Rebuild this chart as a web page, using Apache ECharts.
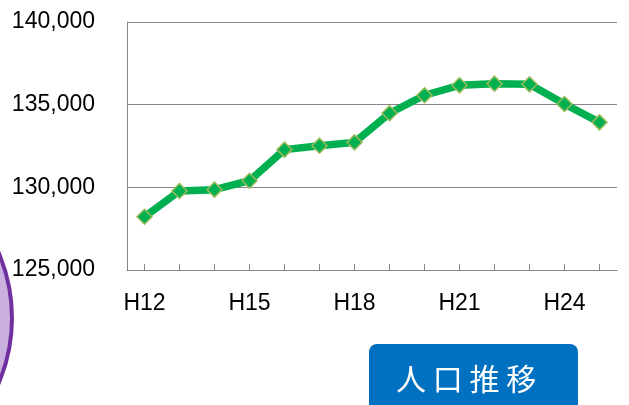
<!DOCTYPE html>
<html>
<head>
<meta charset="utf-8">
<script src="https://cdn.jsdelivr.net/npm/echarts@6/dist/echarts.min.js"></script>
<style>
  html, body { margin: 0; padding: 0; background: #fff; }
  #chart { width: 629px; height: 405px; }
</style>
</head>
<body>
<div id="chart"></div>
<script>
// 年度 (平成)
var years = ['H12', 'H13', 'H14', 'H15', 'H16', 'H17', 'H18', 'H19', 'H20', 'H21', 'H22', 'H23', 'H24', 'H25'];
// 人口
var population = [128220, 129780, 129860, 130400, 132280, 132520, 132720, 134480, 135570, 136170, 136270, 136230, 135040, 133930];
var yTicks = { min: 125000, max: 140000, step: 5000 };
var buttonLabel = '人 口 推 移';

var chart = echarts.init(document.getElementById('chart'));

var option = {
  animation: false,
  grid: { left: 127, right: 12, top: 22, bottom: 135 },
  xAxis: {
    type: 'category',
    data: years,
    boundaryGap: true,
    axisLine: { lineStyle: { color: '#868686', width: 1 } },
    axisTick: { show: true, inside: true, length: 6, alignWithLabel: true, interval: 0, lineStyle: { color: '#868686' } },
    axisLabel: { interval: 2, color: '#000', fontSize: 23, fontFamily: 'Liberation Sans', margin: 22 }
  },
  yAxis: {
    type: 'value',
    min: yTicks.min,
    max: yTicks.max,
    interval: yTicks.step,
    axisLine: { show: true, lineStyle: { color: '#868686', width: 1 } },
    axisTick: { show: false },
    splitLine: { lineStyle: { color: '#868686', width: 1 } },
    axisLabel: {
      color: '#000', fontSize: 23, fontFamily: 'Liberation Sans', margin: 32,
      formatter: function (v) { return v.toLocaleString('en-US'); }
    }
  },
  series: [{
    type: 'line',
    data: population,
    symbol: 'diamond',
    symbolSize: 15,
    lineStyle: { color: '#00B050', width: 7.5 },
    itemStyle: { color: '#00B050', borderColor: '#9BBB59', borderWidth: 1.5 }
  }],
  graphic: [
    {
      type: 'circle',
      shape: { cx: -154, cy: 318, r: 166 },
      style: { fill: '#C9B0DE', stroke: '#7030A0', lineWidth: 4 },
      z: -1
    },
    {
      type: 'rect',
      shape: { x: 369, y: 344, width: 209, height: 80, r: 8 },
      style: { fill: '#0070C0' }
    },
    {
      type: 'text',
      left: 396,
      top: 364,
      style: {
        text: buttonLabel,
        fill: '#fff',
        fontSize: 30,
        fontFamily: 'Noto Sans CJK JP'
      }
    }
  ]
};

chart.setOption(option);
</script>
</body>
</html>
